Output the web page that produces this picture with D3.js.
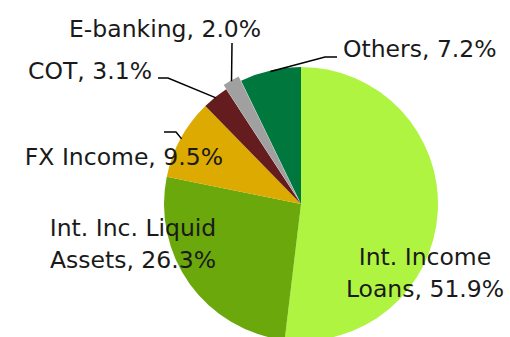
<!DOCTYPE html>
<html>
<head>
<meta charset="utf-8">
<script src="https://cdn.jsdelivr.net/npm/d3@7/dist/d3.min.js"></script>
<style>
  html, body { margin: 0; padding: 0; background: #fff; }
  svg text { font-family: "DejaVu Sans", sans-serif; font-size: 23.5px; fill: #1a1a1a; }
</style>
</head>
<body>
<svg id="chart" width="510" height="337"></svg>
<script>
// Income composition, percent of total
const categories = ["Int. Income Loans", "Int. Inc. Liquid Assets", "FX Income", "COT", "E-banking", "Others"];
const values = [51.9, 26.3, 9.5, 3.1, 2.0, 7.2];
const colors = ["#b0f442", "#6aa80c", "#dcaa00", "#641c1e", "#a0a0a0", "#00773c"];

// Label lines and their placement
const labelLines = [
  ["Int. Income", "Loans, 51.9%"],
  ["Int. Inc. Liquid", "Assets, 26.3%"],
  ["FX Income, 9.5%"],
  ["COT, 3.1%"],
  ["E-banking, 2.0%"],
  ["Others, 7.2%"]
];
const labelPos = [
  { x: 425, y: 265, anchor: "middle" },
  { x: 133, y: 236, anchor: "middle" },
  { x: 223, y: 165, anchor: "end" },
  { x: 152, y: 79, anchor: "end" },
  { x: 69, y: 37, anchor: "start" },
  { x: 343, y: 57, anchor: "start" }
];
// Leader elbows: [elbow, end of horizontal run], null where no leader is drawn
const leaders = [
  null,
  null,
  [[176, 132], [164, 132]],
  [[168, 78], [158, 78]],
  [[232, 43], [232, 43]],
  [[325, 57], [337, 57]]
];
const explode = [0, 0, 0, 0, 5, 0];

const svg = d3.select("#chart");
const cx = 301, cy = 204, R = 137;
const g = svg.append("g").attr("transform", `translate(${cx},${cy})`);

const pie = d3.pie().sort(null).value(d => d)(values);
const arc = d3.arc().innerRadius(0).outerRadius(R);

g.selectAll("path.slice")
  .data(pie)
  .join("path")
  .attr("class", "slice")
  .attr("fill", (d, i) => colors[i])
  .attr("transform", (d, i) => {
    const a = (d.startAngle + d.endAngle) / 2;
    return `translate(${Math.sin(a) * explode[i]},${-Math.cos(a) * explode[i]})`;
  })
  .attr("d", arc);

// Leader lines start on the rim at each slice's mid-angle
pie.forEach((d, i) => {
  if (!leaders[i]) return;
  const a = (d.startAngle + d.endAngle) / 2;
  const r = R + explode[i] - 1;
  const p0 = [cx + Math.sin(a) * r, cy - Math.cos(a) * r];
  const pts = [p0, ...leaders[i]];
  svg.append("path")
    .attr("d", d3.line()(pts))
    .attr("fill", "none")
    .attr("stroke", "#000")
    .attr("stroke-width", 1.5);
});

labelLines.forEach((lines, i) => {
  const t = svg.append("text")
    .attr("x", labelPos[i].x)
    .attr("y", labelPos[i].y)
    .attr("text-anchor", labelPos[i].anchor);
  lines.forEach((s, k) => {
    t.append("tspan")
      .attr("x", labelPos[i].x)
      .attr("dy", k === 0 ? 0 : 32)
      .text(s);
  });
});
</script>
</body>
</html>
